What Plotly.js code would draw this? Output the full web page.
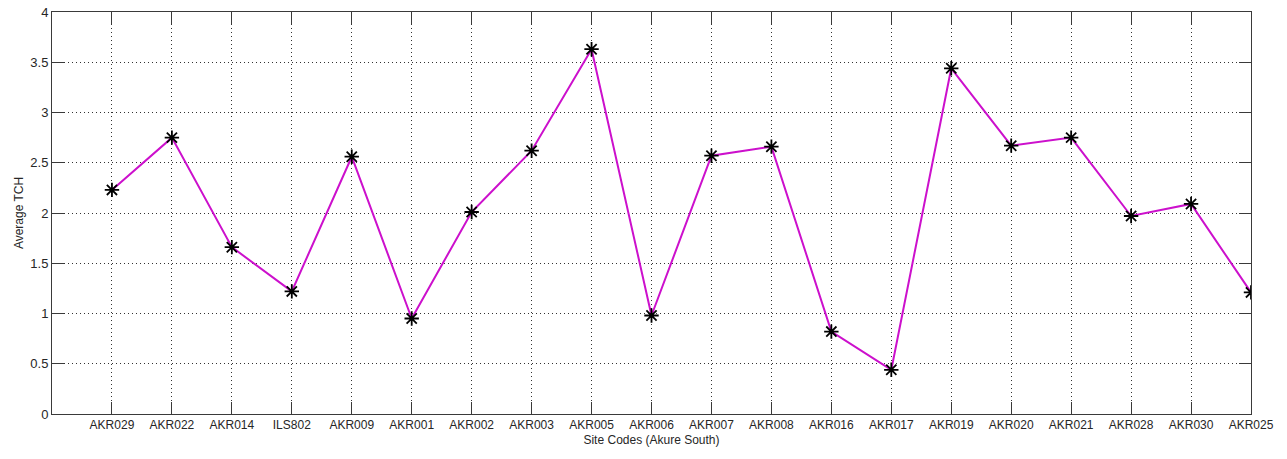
<!DOCTYPE html>
<html>
<head>
<meta charset="utf-8">
<script src="https://cdn.plot.ly/plotly-3.0.1.min.js"></script>
<style>
html,body{margin:0;padding:0;background:#fff;}
#chart{width:1287px;height:459px;}
</style>
</head>
<body>
<div id="chart"></div>
<script>
const siteCodes = ["AKR029","AKR022","AKR014","ILS802","AKR009","AKR001","AKR002","AKR003","AKR005","AKR006",
                   "AKR007","AKR008","AKR016","AKR017","AKR019","AKR020","AKR021","AKR028","AKR030","AKR025"];
const averageTCH = [2.23, 2.75, 1.66, 1.22, 2.56, 0.95, 2.01, 2.62, 3.63, 0.98,
                    2.57, 2.66, 0.82, 0.44, 3.44, 2.67, 2.75, 1.97, 2.09, 1.21];
const yTicks = [0, 0.5, 1, 1.5, 2, 2.5, 3, 3.5, 4];
const yTickLabels = ["0", "0.5", "1", "1.5", "2", "2.5", "3", "3.5", "4"];

const fontFam = "Liberation Sans, Arial, sans-serif";

const trace = {
  x: siteCodes,
  y: averageTCH,
  type: "scatter",
  mode: "lines+markers",
  line: {color: "#cc10cc", width: 2},
  marker: {symbol: "asterisk-open", size: 12, color: "#000", line: {color: "#000", width: 1.8}},
  hoverinfo: "x+y",
  showlegend: false
};

const axisCommon = {
  showline: true,
  linecolor: "#3a3a3a",
  linewidth: 1,
  mirror: "ticks",
  ticks: "inside",
  ticklen: 12,
  tickcolor: "#3a3a3a",
  tickwidth: 1,
  showgrid: true,
  gridcolor: "#333",
  gridwidth: 1,
  griddash: "1px,3px",
  zeroline: false,
  tickfont: {family: fontFam, size: 12, color: "#262626"}
};

const layout = {
  width: 1287,
  height: 459,
  margin: {l: 52, r: 36, t: 12, b: 45},
  paper_bgcolor: "#fff",
  plot_bgcolor: "#fff",
  font: {family: fontFam, size: 12, color: "#262626"},
  xaxis: Object.assign({}, axisCommon, {
    type: "category",
    categoryorder: "array",
    categoryarray: siteCodes,
    range: [-1, siteCodes.length - 1],
    automargin: false,
    title: {text: "Site Codes (Akure South)", font: {family: fontFam, size: 12, color: "#262626"}, standoff: 4}
  }),
  yaxis: Object.assign({}, axisCommon, {
    range: [0, 4],
    tickmode: "array",
    tickvals: yTicks,
    ticktext: yTickLabels,
    automargin: false,
    tickfont: {family: fontFam, size: 13, color: "#262626"},
    title: {text: "Average TCH", font: {family: fontFam, size: 12, color: "#262626"}, standoff: 4}
  })
};

Plotly.newPlot("chart", [trace], layout, {displayModeBar: false, staticPlot: true});
</script>
</body>
</html>
